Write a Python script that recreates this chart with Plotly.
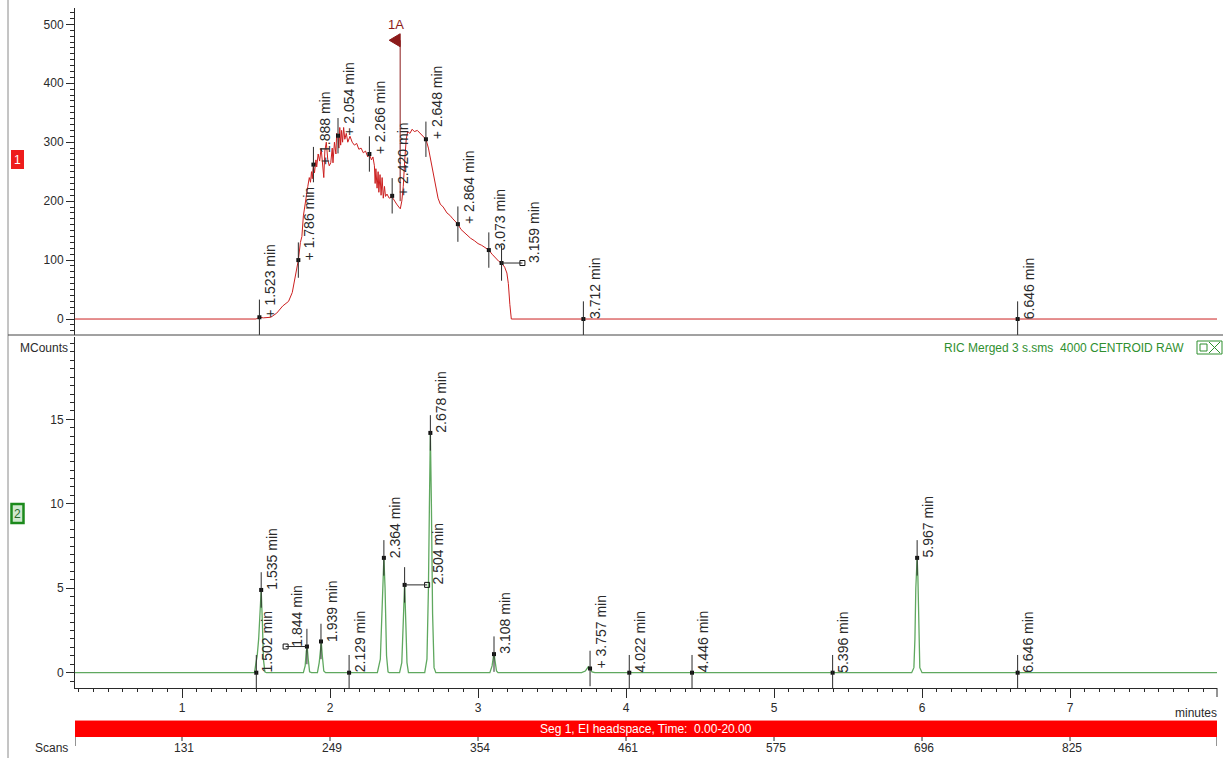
import plotly.graph_objects as go

W, H = 1223, 758
T0, T1 = 0.277, 7.993          # visible time window (minutes)

# ---- channel 1 (upper trace) ----
ch1_time = [0.277, 1.500, 1.523, 1.550, 1.600, 1.640, 1.680, 1.700, 1.720, 1.745,
            1.765, 1.786, 1.800, 1.810, 1.820, 1.835, 1.850, 1.860, 1.868, 1.875,
            1.880, 1.888, 1.895, 1.905, 1.910, 1.920, 1.930, 1.940, 1.950, 1.958,
            1.965, 1.975, 1.985, 1.995, 2.005, 2.015, 2.020, 2.030, 2.040, 2.045,
            2.054, 2.060, 2.066, 2.072, 2.078, 2.085, 2.092, 2.100, 2.110, 2.120,
            2.135, 2.150, 2.165, 2.180, 2.195, 2.210, 2.225, 2.240, 2.255, 2.266,
            2.280, 2.290, 2.300, 2.305, 2.310, 2.318, 2.325, 2.330, 2.338, 2.345,
            2.352, 2.360, 2.368, 2.375, 2.385, 2.400, 2.420, 2.435, 2.450, 2.465,
            2.475, 2.485, 2.495, 2.505, 2.515, 2.525, 2.540, 2.555, 2.570, 2.590,
            2.610, 2.630, 2.648, 2.665, 2.680, 2.700, 2.715, 2.730, 2.745, 2.765,
            2.790, 2.810, 2.830, 2.850, 2.864, 2.885, 2.905, 2.925, 2.950, 2.975,
            3.000, 3.025, 3.050, 3.073, 3.095, 3.120, 3.140, 3.159, 3.180, 3.195,
            3.205, 3.215, 3.225, 7.993]
ch1_value = [0, 0, 3, 2, 3, 10, 22, 26, 30, 45,
             75, 100, 130, 140, 175, 205, 225, 240, 232, 250,
             238, 262, 248, 270, 258, 280, 268, 290, 255, 240,
             285, 300, 270, 260, 265, 290, 265, 300, 280, 315,
             311, 290, 325, 295, 320, 300, 325, 305, 315, 300,
             310, 300, 295, 298, 288, 290, 282, 285, 275, 280,
             270, 275, 260, 230, 255, 222, 250, 215, 245, 210,
             240, 205, 225, 208, 212, 205, 207, 200, 195, 190,
             187, 200, 225, 270, 305, 318, 315, 322, 318, 320,
             315, 310, 305, 290, 270, 250, 225, 205, 195, 190,
             180, 176, 170, 165, 161, 152, 147, 142, 137, 133,
             128, 125, 121, 117, 110, 103, 98, 95, 88, 78,
             60, 25, 0, 0]

ch1_peak_time = [1.523, 1.786, 1.888, 2.054, 2.266, 2.420, 2.648, 2.864, 3.073, 3.159, 3.712, 6.646]
ch1_peak_value = [3, 100, 262, 311, 280, 209, 305, 161, 117, 95, 0, 0]
ch1_peak_text = ["+ 1.523 min", "+ 1.786 min", "+ 1.888 min", "+ 2.054 min", "+ 2.266 min",
                 "+ 2.420 min", "+ 2.648 min", "+ 2.864 min", "3.073 min", "3.159 min",
                 "3.712 min", "6.646 min"]
ch1_bar_end = {3.159: 3.300}
ch1_flag_time = 2.474
ch1_flag_text = "1A"

# ---- channel 2 (lower trace, MCounts) ----
ch2_time = [0.277,
            1.490, 1.500, 1.508, 1.518, 1.526, 1.535, 1.543, 1.550, 1.560, 1.570,
            1.820, 1.832, 1.840, 1.846, 1.853, 1.862, 1.875,
            1.915, 1.927, 1.935, 1.941, 1.948, 1.958, 1.970,
            2.320, 2.340, 2.350, 2.358, 2.364, 2.372, 2.382, 2.392, 2.400,
            2.470, 2.485, 2.495, 2.504, 2.512, 2.520, 2.530,
            2.640, 2.655, 2.665, 2.672, 2.678, 2.685, 2.693, 2.703, 2.715,
            3.080, 3.095, 3.103, 3.108, 3.115, 3.125, 3.135,
            3.700, 3.725, 3.745, 3.757, 3.770, 3.790,
            5.930, 5.945, 5.952, 5.958, 5.963, 5.967, 5.972, 5.978, 5.985, 6.000,
            7.993]
ch2_mcounts = [0,
               0, 0.6, 1.0, 2.0, 3.4, 4.9, 3.0, 0.8, 0.05, 0,
               0, 0.4, 1.3, 1.5, 0.8, 0.05, 0,
               0, 0.6, 1.6, 1.8, 1.0, 0.1, 0,
               0, 0.8, 3.5, 6.0, 6.8, 5.0, 1.0, 0.05, 0,
               0, 0.6, 3.0, 5.3, 3.0, 0.6, 0,
               0, 0.8, 5.0, 10.2, 14.2, 10.0, 3.5, 0.3, 0,
               0, 0.4, 0.9, 1.15, 0.7, 0.1, 0,
               0, 0.1, 0.35, 0.25, 0.05, 0,
               0, 0.3, 2.0, 5.0, 6.0, 6.8, 5.7, 2.0, 0.3, 0,
               0]

ch2_peak_time = [1.502, 1.535, 1.844, 1.939, 2.129, 2.364, 2.504, 2.678, 3.108, 3.757,
                 4.022, 4.446, 5.396, 5.967, 6.646]
ch2_peak_value = [0, 4.9, 1.55, 1.85, 0, 6.8, 5.2, 14.2, 1.1, 0.25, 0, 0, 0, 6.8, 0]
ch2_peak_text = ["1.502 min", "1.535 min", "1.844 min", "1.939 min", "2.129 min",
                 "2.364 min", "2.504 min", "2.678 min", "3.108 min", "+ 3.757 min",
                 "4.022 min", "4.446 min", "5.396 min", "5.967 min", "6.646 min"]
ch2_bar_end = {1.844: 1.700, 2.504: 2.656}

# ---- time / scan axis labels ----
minute_ticks = [1, 2, 3, 4, 5, 6, 7]
scan_labels = ["131", "249", "354", "461", "575", "696", "825"]

segment_text = "Seg 1, EI headspace, Time:  0.00-20.00"
ric_text = "RIC Merged 3 s.sms  4000 CENTROID RAW"

FONT = "Liberation Sans, Arial, sans-serif"
RED = "#cc1f1f"
GREEN = "#5fa85f"
INK = "#2a2a2a"


def fx(p):
    return p / W


def fy(p):
    return 1 - p / H


def label(x, y, text, xref="paper", yref="paper", xanchor="center", yanchor="middle",
          size=12, color=INK, **kw):
    return dict(x=x, y=y, xref=xref, yref=yref, text=text, showarrow=False,
                xanchor=xanchor, yanchor=yanchor,
                font=dict(family=FONT, size=size, color=color), **kw)


fig = go.Figure()

# traces
fig.add_trace(go.Scatter(x=ch1_time, y=ch1_value, xaxis="x2", yaxis="y2", mode="lines",
                         line=dict(color=RED, width=1), hoverinfo="skip"))
fig.add_trace(go.Scatter(x=ch2_time, y=ch2_mcounts, xaxis="x", yaxis="y", mode="lines",
                         line=dict(color=GREEN, width=1.3), hoverinfo="skip"))

shapes = []
annotations = []


def peak_marks(times, values, texts, bars, xr, yr, half_lo, half_hi):
    for t, v, s in zip(times, values, texts):
        shapes.append(dict(type="line", xref=xr, yref=yr, x0=t, x1=t,
                           y0=v - half_lo, y1=v + half_hi,
                           line=dict(color=INK, width=1)))
        anchor = t
        if t in bars:
            anchor = bars[t]
            shapes.append(dict(type="line", xref=xr, yref=yr, x0=t, x1=anchor,
                               y0=v, y1=v, line=dict(color=INK, width=1)))
        annotations.append(label(anchor, v, s, xref=xr, yref=yr, xanchor="left",
                                 yanchor="bottom", size=14, textangle=-90,
                                 xshift=1, yshift=-2))
    fig.add_trace(go.Scatter(x=times, y=values, xaxis=xr, yaxis=yr, mode="markers",
                             marker=dict(symbol="square", size=4, color="#111"),
                             hoverinfo="skip"))
    ends_t = [bars[t] for t in times if t in bars]
    ends_v = [v for t, v in zip(times, values) if t in bars]
    if ends_t:
        fig.add_trace(go.Scatter(x=ends_t, y=ends_v, xaxis=xr, yaxis=yr, mode="markers",
                                 marker=dict(symbol="square-open", size=5, color="#111",
                                             line=dict(width=1)),
                                 hoverinfo="skip"))


peak_marks(ch1_peak_time, ch1_peak_value, ch1_peak_text, ch1_bar_end, "x2", "y2", 30, 30)
peak_marks(ch2_peak_time, ch2_peak_value, ch2_peak_text, ch2_bar_end, "x", "y", 1.05, 1.05)

# "1A" flag on the upper trace
shapes.append(dict(type="line", xref="x2", yref="y2", x0=ch1_flag_time, x1=ch1_flag_time,
                   y0=200, y1=473, line=dict(color="#8b1a1a", width=1)))
shapes.append(dict(type="path", xref="x2", yref="y2",
                   path=f"M {ch1_flag_time},484 L {ch1_flag_time - 0.074},473 L {ch1_flag_time},462 Z",
                   fillcolor="#8b1a1a", line=dict(color="#8b1a1a", width=1)))
annotations.append(label(ch1_flag_time - 0.026, 500, ch1_flag_text, xref="x2", yref="y2",
                         size=13, color="#8b1a1a"))

# frame lines
shapes.append(dict(type="line", xref="paper", yref="paper", x0=fx(8), x1=fx(8), y0=0, y1=1,
                   line=dict(color="#8a8a8a", width=1)))
shapes.append(dict(type="line", xref="paper", yref="paper", x0=fx(8), x1=1, y0=fy(335), y1=fy(335),
                   line=dict(color="#444", width=1)))
shapes.append(dict(type="line", xref="paper", yref="paper", x0=fx(1217), x1=fx(1217),
                   y0=fy(697), y1=fy(688), line=dict(color=INK, width=1)))

# channel boxes
shapes.append(dict(type="rect", xref="paper", yref="paper", x0=fx(11), x1=fx(24),
                   y0=fy(169), y1=fy(150), fillcolor="#ee1c1c", line=dict(width=0)))
annotations.append(label(fx(17.5), fy(159.5), "1", color="white"))
shapes.append(dict(type="rect", xref="paper", yref="paper", x0=fx(11.5), x1=fx(23.5),
                   y0=fy(523), y1=fy(504), fillcolor="#cfe8cf",
                   line=dict(color="#1c8a1c", width=2.5)))
annotations.append(label(fx(17.5), fy(513.5), "2", color="#2a6a2a"))

# RIC header text and icon
annotations.append(label(fx(1186), fy(348), ric_text, xanchor="right", color="#2f8f2f"))
shapes.append(dict(type="rect", xref="paper", yref="paper", x0=fx(1197), x1=fx(1222),
                   y0=fy(354), y1=fy(341), line=dict(color="#2f8f2f", width=1)))
shapes.append(dict(type="rect", xref="paper", yref="paper", x0=fx(1200), x1=fx(1207),
                   y0=fy(351), y1=fy(344), line=dict(color="#2f8f2f", width=1)))
shapes.append(dict(type="line", xref="paper", yref="paper", x0=fx(1209), x1=fx(1220),
                   y0=fy(342), y1=fy(353), line=dict(color="#2f8f2f", width=1)))
shapes.append(dict(type="line", xref="paper", yref="paper", x0=fx(1209), x1=fx(1220),
                   y0=fy(353), y1=fy(342), line=dict(color="#2f8f2f", width=1)))

annotations.append(label(fx(70), fy(348), "MCounts", xanchor="right"))
annotations.append(label(fx(1219), fy(713), "minutes", xanchor="right"))

# segment bar
shapes.append(dict(type="rect", xref="x", yref="paper", x0=T0, x1=T1,
                   y0=fy(737), y1=fy(720), fillcolor="#ff0000", line=dict(width=0)))
shapes.append(dict(type="line", xref="x", yref="paper", x0=T0, x1=T1,
                   y0=fy(720.5), y1=fy(720.5), line=dict(color="#ff8a8a", width=1)))
annotations.append(label((T0 + T1) / 2, fy(728.5), segment_text, xref="x", color="white"))

# scan axis
annotations.append(label(fx(70), fy(748), "Scans", xanchor="right"))
for edge in (T0, T1):
    shapes.append(dict(type="line", xref="x", yref="paper", x0=edge, x1=edge,
                       y0=fy(746), y1=fy(737), line=dict(color=INK, width=1)))
for t, s in zip(minute_ticks, scan_labels):
    shapes.append(dict(type="line", xref="x", yref="paper", x0=t, x1=t,
                       y0=fy(741), y1=fy(737), line=dict(color=INK, width=1)))
    annotations.append(label(t, fy(748), s, xref="x", xshift=2))

xdom = [fx(75), fx(1217)]
axis_common = dict(showline=True, linecolor=INK, linewidth=1, showgrid=False, zeroline=False,
                   tickcolor=INK, tickfont=dict(family=FONT, size=12, color=INK))

fig.update_layout(
    width=W, height=H, margin=dict(l=0, r=0, t=0, b=0),
    paper_bgcolor="white", plot_bgcolor="white", showlegend=False,
    shapes=shapes, annotations=annotations,
    xaxis=dict(domain=xdom, range=[T0, T1], anchor="y", tickmode="array",
               tickvals=minute_ticks, ticks="outside", ticklen=9,
               minor=dict(dtick=0.1, tick0=0, ticks="outside", ticklen=3, tickcolor=INK),
               **axis_common),
    xaxis2=dict(domain=xdom, range=[T0, T1], anchor="y2", matches="x",
                showticklabels=False, showline=False, showgrid=False, zeroline=False, ticks=""),
    yaxis=dict(domain=[fy(688), fy(337)], range=[-0.906, 19.88], anchor="x",
               tickvals=[0, 5, 10, 15], ticks="outside", ticklen=8,
               minor=dict(dtick=0.5, tick0=0, ticks="outside", ticklen=4, tickcolor=INK),
               **axis_common),
    yaxis2=dict(domain=[fy(335), fy(8)], range=[-27.1, 527.7], anchor="x2",
                tickvals=[0, 100, 200, 300, 400, 500], ticks="outside", ticklen=8,
                minor=dict(dtick=10, tick0=0, ticks="outside", ticklen=4, tickcolor=INK),
                **axis_common),
)

fig.write_html("out.html")
